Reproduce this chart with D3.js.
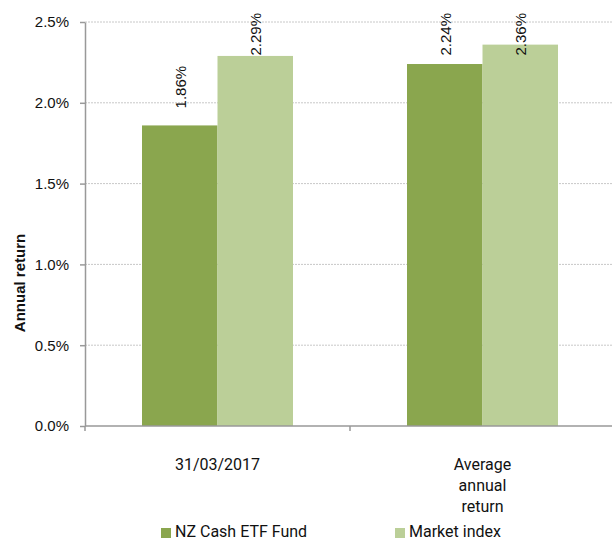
<!DOCTYPE html>
<html>
<head>
<meta charset="utf-8">
<script src="https://cdn.jsdelivr.net/npm/d3@7"></script>
<style>
  body { margin: 0; background: #fff; }
  svg { font-family: Roboto, "Noto Sans", sans-serif; }
</style>
</head>
<body>
<svg id="chart" width="612" height="542"></svg>
<script>
// data
var categories = [["31/03/2017"], ["Average", "annual", "return"]];
var seriesNames = ["NZ Cash ETF Fund", "Market index"];
var fundValues = [1.86, 2.24];
var indexValues = [2.29, 2.36];
var yTicks = [0, 0.5, 1.0, 1.5, 2.0, 2.5];
var colors = ["#8aa64e", "#bbcf98"];

var svg = d3.select("#chart");
var margin = { top: 22, right: -3, bottom: 116, left: 85 };
var width = +svg.attr("width") - margin.left - margin.right;
var height = +svg.attr("height") - margin.top - margin.bottom;

var g = svg.append("g")
  .attr("transform", "translate(" + margin.left + "," + margin.top + ")");

// scales
var yScale = d3.scaleLinear().domain([0, 2.5]).range([height, 0]);
var xScale = d3.scaleBand()
  .domain(d3.range(categories.length))
  .range([0, width])
  .padding(0);
var inner = d3.scaleBand()
  .domain(d3.range(seriesNames.length))
  .range([0, xScale.bandwidth()])
  .paddingOuter(0.755)
  .paddingInner(0);

// grid
g.selectAll(".grid")
  .data(yTicks.filter(d => d > 0))
  .enter().append("line")
  .attr("class", "grid")
  .attr("x1", 0)
  .attr("x2", width)
  .attr("y1", d => yScale(d))
  .attr("y2", d => yScale(d))
  .attr("stroke", "#c8c8c8")
  .attr("stroke-width", 1)
  .attr("stroke-dasharray", "2,1");

// bars
var rows = categories.map((c, i) => [fundValues[i], indexValues[i]]);
var groups = g.selectAll(".group")
  .data(rows)
  .enter().append("g")
  .attr("transform", (d, i) => "translate(" + xScale(i) + ",0)");

groups.selectAll("rect")
  .data(d => d)
  .enter().append("rect")
  .attr("x", (d, j) => inner(j))
  .attr("width", inner.bandwidth())
  .attr("y", d => yScale(d))
  .attr("height", d => height - yScale(d))
  .attr("fill", (d, j) => colors[j]);

// value labels (rotated, kept inside the plot)
groups.selectAll(".val")
  .data(d => d)
  .enter().append("text")
  .attr("class", "val")
  .attr("font-family", "'Liberation Sans', Arial, sans-serif")
  .attr("font-size", "15px")
  .attr("fill", "#111")
  .text(d => d.toFixed(2) + "%")
  .attr("transform", function (d, j) {
    var len = this.getComputedTextLength();
    var x = inner(j) + inner.bandwidth() / 2 + 6;
    var y = Math.max(yScale(d) - 17, len - 9);
    return "translate(" + x + "," + y + ") rotate(-90)";
  });

// y axis
var yAxis = d3.axisLeft(yScale)
  .tickValues(yTicks)
  .tickFormat(d => d.toFixed(1) + "%")
  .tickSize(5)
  .tickSizeOuter(0);
var ya = g.append("g").call(yAxis);
ya.select(".domain").attr("stroke", "#999").attr("stroke-width", 1.5);
ya.selectAll(".tick line").attr("stroke", "#999").attr("stroke-width", 1.5);
ya.selectAll(".tick text")
  .attr("x", -16)
  .attr("font-size", "15px")
  .attr("font-family", "'Liberation Sans', Arial, sans-serif")
  .attr("fill", "#111");

// x axis
var xa = g.append("g").attr("transform", "translate(0," + height + ")");
xa.append("line")
  .attr("x1", 0).attr("x2", width)
  .attr("stroke", "#999").attr("stroke-width", 1.5);
xa.selectAll(".xtick")
  .data([0, 1, 2])
  .enter().append("line")
  .attr("x1", d => d * xScale.step())
  .attr("x2", d => d * xScale.step())
  .attr("y1", 0).attr("y2", 5)
  .attr("stroke", "#999").attr("stroke-width", 1.5);

xa.selectAll(".xlab")
  .data(categories)
  .enter().append("text")
  .attr("text-anchor", "middle")
  .attr("font-size", "16px")
  .attr("fill", "#111")
  .attr("transform", (d, i) => "translate(" + (xScale(i) + xScale.bandwidth() / 2) + ",44)")
  .each(function (d) {
    var t = d3.select(this);
    d.forEach((line, k) => {
      t.append("tspan").attr("x", 0).attr("y", k * 21).text(line);
    });
  });

// y label
svg.append("text")
  .attr("transform", "translate(25,283) rotate(-90)")
  .attr("text-anchor", "middle")
  .attr("font-family", "'Liberation Sans', Arial, sans-serif")
  .attr("font-size", "15px")
  .attr("font-weight", "bold")
  .attr("fill", "#111")
  .text("Annual return");

// legend
var legendX = [161, 395];
var legend = svg.selectAll(".legend")
  .data(seriesNames)
  .enter().append("g")
  .attr("transform", (d, i) => "translate(" + legendX[i] + ",528)");
legend.append("rect")
  .attr("width", 10).attr("height", 10)
  .attr("fill", (d, i) => colors[i]);
legend.append("text")
  .attr("x", 14).attr("y", 9)
  .attr("font-size", "16px")
  .attr("fill", "#111")
  .text(d => d);
</script>
</body>
</html>
